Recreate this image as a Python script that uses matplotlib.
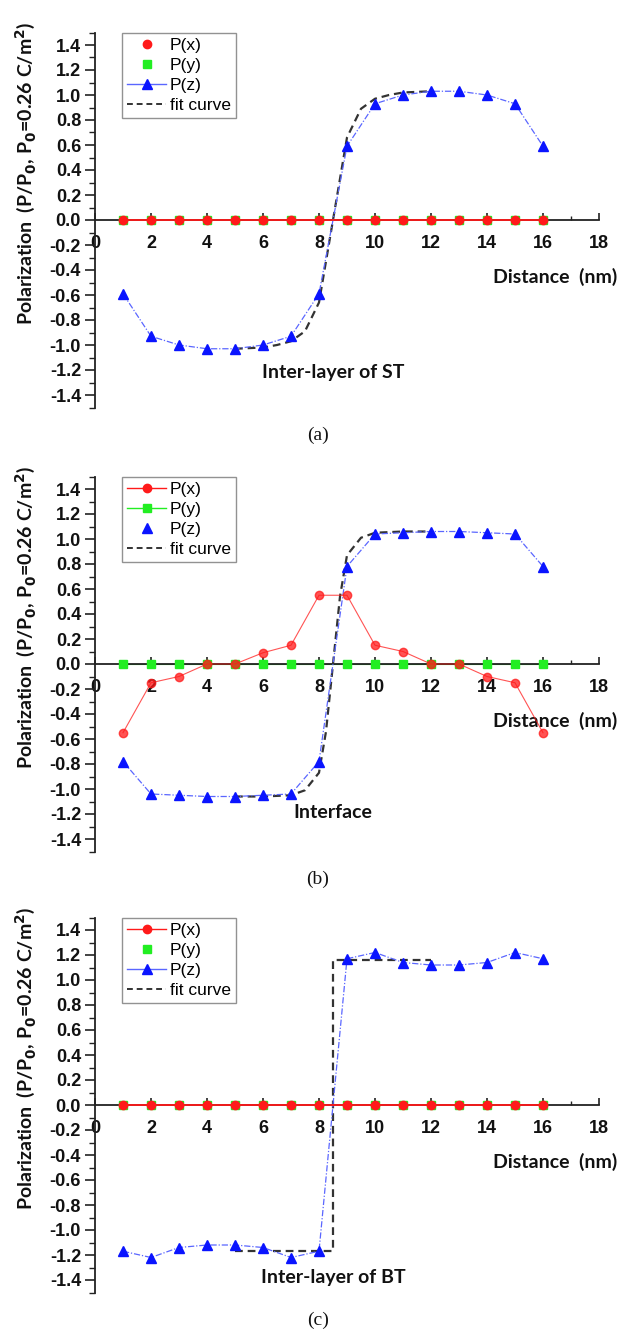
import matplotlib
matplotlib.use("Agg")
import matplotlib.pyplot as plt
from matplotlib.lines import Line2D
from matplotlib.ticker import MultipleLocator, FormatStrFormatter

# ---------------- data ----------------
distance = [1, 2, 3, 4, 5, 6, 7, 8, 9, 10, 11, 12, 13, 14, 15, 16]

# (a) Inter-layer of ST
a_px = [0, 0, 0, 0, 0, 0, 0, 0, 0, 0, 0, 0, 0, 0, 0, 0]
a_py = [0, 0, 0, 0, 0, 0, 0, 0, 0, 0, 0, 0, 0, 0, 0, 0]
a_pz = [-0.59, -0.93, -1.00, -1.03, -1.03, -1.00, -0.93, -0.59,
        0.59, 0.93, 1.00, 1.03, 1.03, 1.00, 0.93, 0.59]
a_fit_x = [5, 6, 6.5, 7, 7.5, 8, 8.25, 8.5, 8.75, 9, 9.5, 10, 10.5, 11, 12]
a_fit_y = [-1.03, -1.02, -1.00, -0.97, -0.89, -0.66, -0.33, 0.0,
           0.33, 0.66, 0.89, 0.97, 1.00, 1.02, 1.03]

# (b) Interface
b_px = [-0.55, -0.15, -0.10, 0.0, 0.0, 0.09, 0.15, 0.55,
        0.55, 0.15, 0.10, 0.0, 0.0, -0.10, -0.15, -0.55]
b_py = [0, 0, 0, 0, 0, 0, 0, 0, 0, 0, 0, 0, 0, 0, 0, 0]
b_pz = [-0.78, -1.04, -1.05, -1.06, -1.06, -1.05, -1.04, -0.78,
        0.78, 1.04, 1.05, 1.06, 1.06, 1.05, 1.04, 0.78]
b_fit_x = [5, 6, 7, 7.5, 8, 8.25, 8.5, 8.75, 9, 9.5, 10, 11, 12]
b_fit_y = [-1.06, -1.06, -1.05, -1.01, -0.87, -0.54, 0.0,
           0.54, 0.87, 1.01, 1.05, 1.06, 1.06]

# (c) Inter-layer of BT
c_px = [0, 0, 0, 0, 0, 0, 0, 0, 0, 0, 0, 0, 0, 0, 0, 0]
c_py = [0, 0, 0, 0, 0, 0, 0, 0, 0, 0, 0, 0, 0, 0, 0, 0]
c_pz = [-1.17, -1.22, -1.14, -1.12, -1.12, -1.14, -1.22, -1.17,
        1.17, 1.22, 1.14, 1.12, 1.12, 1.14, 1.22, 1.17]
c_fit_x = [5, 8.5, 8.5, 12]
c_fit_y = [-1.17, -1.17, 1.16, 1.16]

legend_labels = ["P(x)", "P(y)", "P(z)", "fit curve"]
panel_texts = ["Inter-layer of ST", "Interface", "Inter-layer of BT"]
panel_text_pos = [(8.5, -1.22), (8.5, -1.19), (8.5, -1.38)]
captions = ["(a)", "(b)", "(c)"]
ylabel = r"Polarization  (P/P$_\mathbf{0}$, P$_\mathbf{0}$=0.26 C/m$^\mathbf{2}$)"
xlabel = "Distance  (nm)"

# ---------------- style ----------------
RED = "#ff1a1a"
GREEN = "#22ee22"
BLUE = "#0a14ff"
BLUE_LINE = "#5a66ff"
FIT = "#333333"
TICK_FONT = "Liberation Sans"
LABEL_FONT = ["Lato", "DejaVu Sans"]

W, H = 625, 1329
fig = plt.figure(figsize=(W / 100, H / 100), dpi=100)

zero_px = [220, 664, 1105]
left_px, right_px = 95, 599
ppu = 125.0

legend_lines = [(False, False, True), (True, True, False), (True, False, True)]
datasets = [
    (a_px, a_py, a_pz, a_fit_x, a_fit_y),
    (b_px, b_py, b_pz, b_fit_x, b_fit_y),
    (c_px, c_py, c_pz, c_fit_x, c_fit_y),
]
px_line_style = [dict(color=RED, lw=1.3, alpha=1.0),
                 dict(color=RED, lw=0.8, alpha=0.75),
                 dict(color=RED, lw=1.3, alpha=1.0)]

for i, (px, py, pz, fx, fy) in enumerate(datasets):
    top = zero_px[i] - 1.5 * ppu
    bot = zero_px[i] + 1.5 * ppu
    ax = fig.add_axes([left_px / W, 1 - bot / H, (right_px - left_px) / W, (bot - top) / H])
    ax.set_xlim(0, 18)
    ax.set_ylim(-1.5, 1.5)

    for s in ["top", "right"]:
        ax.spines[s].set_visible(False)
    ax.spines["bottom"].set_position(("data", 0))
    for s in ["left", "bottom"]:
        ax.spines[s].set_linewidth(1.3)
        ax.spines[s].set_color("#222222")
        ax.spines[s].set_zorder(2.5)

    ax.xaxis.set_major_locator(MultipleLocator(2))
    ax.xaxis.set_minor_locator(MultipleLocator(1))
    ax.yaxis.set_major_locator(MultipleLocator(0.2))
    ax.yaxis.set_minor_locator(MultipleLocator(0.1))
    ax.yaxis.set_major_formatter(FormatStrFormatter("%.1f"))
    ax.xaxis.set_major_formatter(FormatStrFormatter("%d"))
    ax.tick_params(axis="x", which="major", direction="in", length=5, width=1.2,
                   pad=11, colors="#222222")
    ax.tick_params(axis="x", which="minor", direction="in", length=3, width=1.0,
                   colors="#222222")
    ax.tick_params(axis="y", which="major", direction="out", length=7, width=1.2,
                   pad=3, colors="#222222")
    ax.tick_params(axis="y", which="minor", direction="out", length=4, width=1.0,
                   colors="#222222")
    for lab in ax.get_xticklabels() + ax.get_yticklabels():
        lab.set_fontfamily(TICK_FONT)
        lab.set_fontweight("bold")
        lab.set_fontsize(13)
        lab.set_color("#111111")

    if i == 1:
        ax.plot(distance, py, color=GREEN, lw=0.8, zorder=2)
        ax.plot(distance, py, ls="none", marker="s", ms=5.5, color=GREEN, zorder=4,
                clip_on=False)
    else:
        ax.plot(distance, py, ls="none", marker="s", ms=5.5, color=GREEN, zorder=3,
                clip_on=False)
    ax.plot(distance, px, marker="o", ms=6, mfc=RED, mec=RED, zorder=4, clip_on=False,
            **px_line_style[i])
    ax.plot(fx, fy, color=FIT, lw=1.6, ls=(0, (3.5, 2.2)), zorder=3)
    ax.plot(distance, pz, color=BLUE_LINE, lw=0.9, ls=(0, (5, 1.5, 1, 1.5)), zorder=3.5)
    ax.plot(distance, pz, ls="none", marker="^", ms=7, color=BLUE, zorder=5, clip_on=False)

    lx, ly, lz = legend_lines[i]
    handles = [
        Line2D([], [], color=RED, lw=1.0 if lx else 0, marker="o", ms=6, mfc=RED, mec=RED),
        Line2D([], [], color=GREEN, lw=1.0 if ly else 0, marker="s", ms=5.5),
        Line2D([], [], color=BLUE_LINE, lw=1.0 if lz else 0, marker="^", ms=7,
               mfc=BLUE, mec=BLUE),
        Line2D([], [], color=FIT, lw=1.4, ls=(0, (3.0, 2.0))),
    ]
    leg = ax.legend(handles, legend_labels, loc="upper left",
                    bbox_to_anchor=(0.054, 1.0), frameon=True, fancybox=False,
                    prop={"family": "Liberation Sans", "size": 12.5},
                    handlelength=2.2, handletextpad=0.25, labelspacing=0.28,
                    borderpad=0.3, borderaxespad=0.0)
    leg.get_frame().set_edgecolor("#777777")
    leg.get_frame().set_linewidth(1.0)

    ax.text(14.2, -0.455, xlabel, fontfamily=LABEL_FONT, fontweight="bold", fontsize=14,
            ha="left", va="center", clip_on=False, color="#111111")
    tx, ty = panel_text_pos[i]
    ax.text(tx, ty, panel_texts[i], fontfamily=LABEL_FONT, fontweight="bold", fontsize=14,
            ha="center", va="center", color="#111111")
    ax.set_ylabel(ylabel, fontfamily=LABEL_FONT, fontweight="bold", fontsize=14,
                  color="#111111")
    ax.yaxis.set_label_coords(-0.113, 0.624)

    fig.text(318 / W, 1 - (bot + 28) / H, captions[i], fontfamily="Liberation Serif",
             fontsize=14, ha="center", va="center", color="#111111")

fig.savefig("out.png", dpi=100)
